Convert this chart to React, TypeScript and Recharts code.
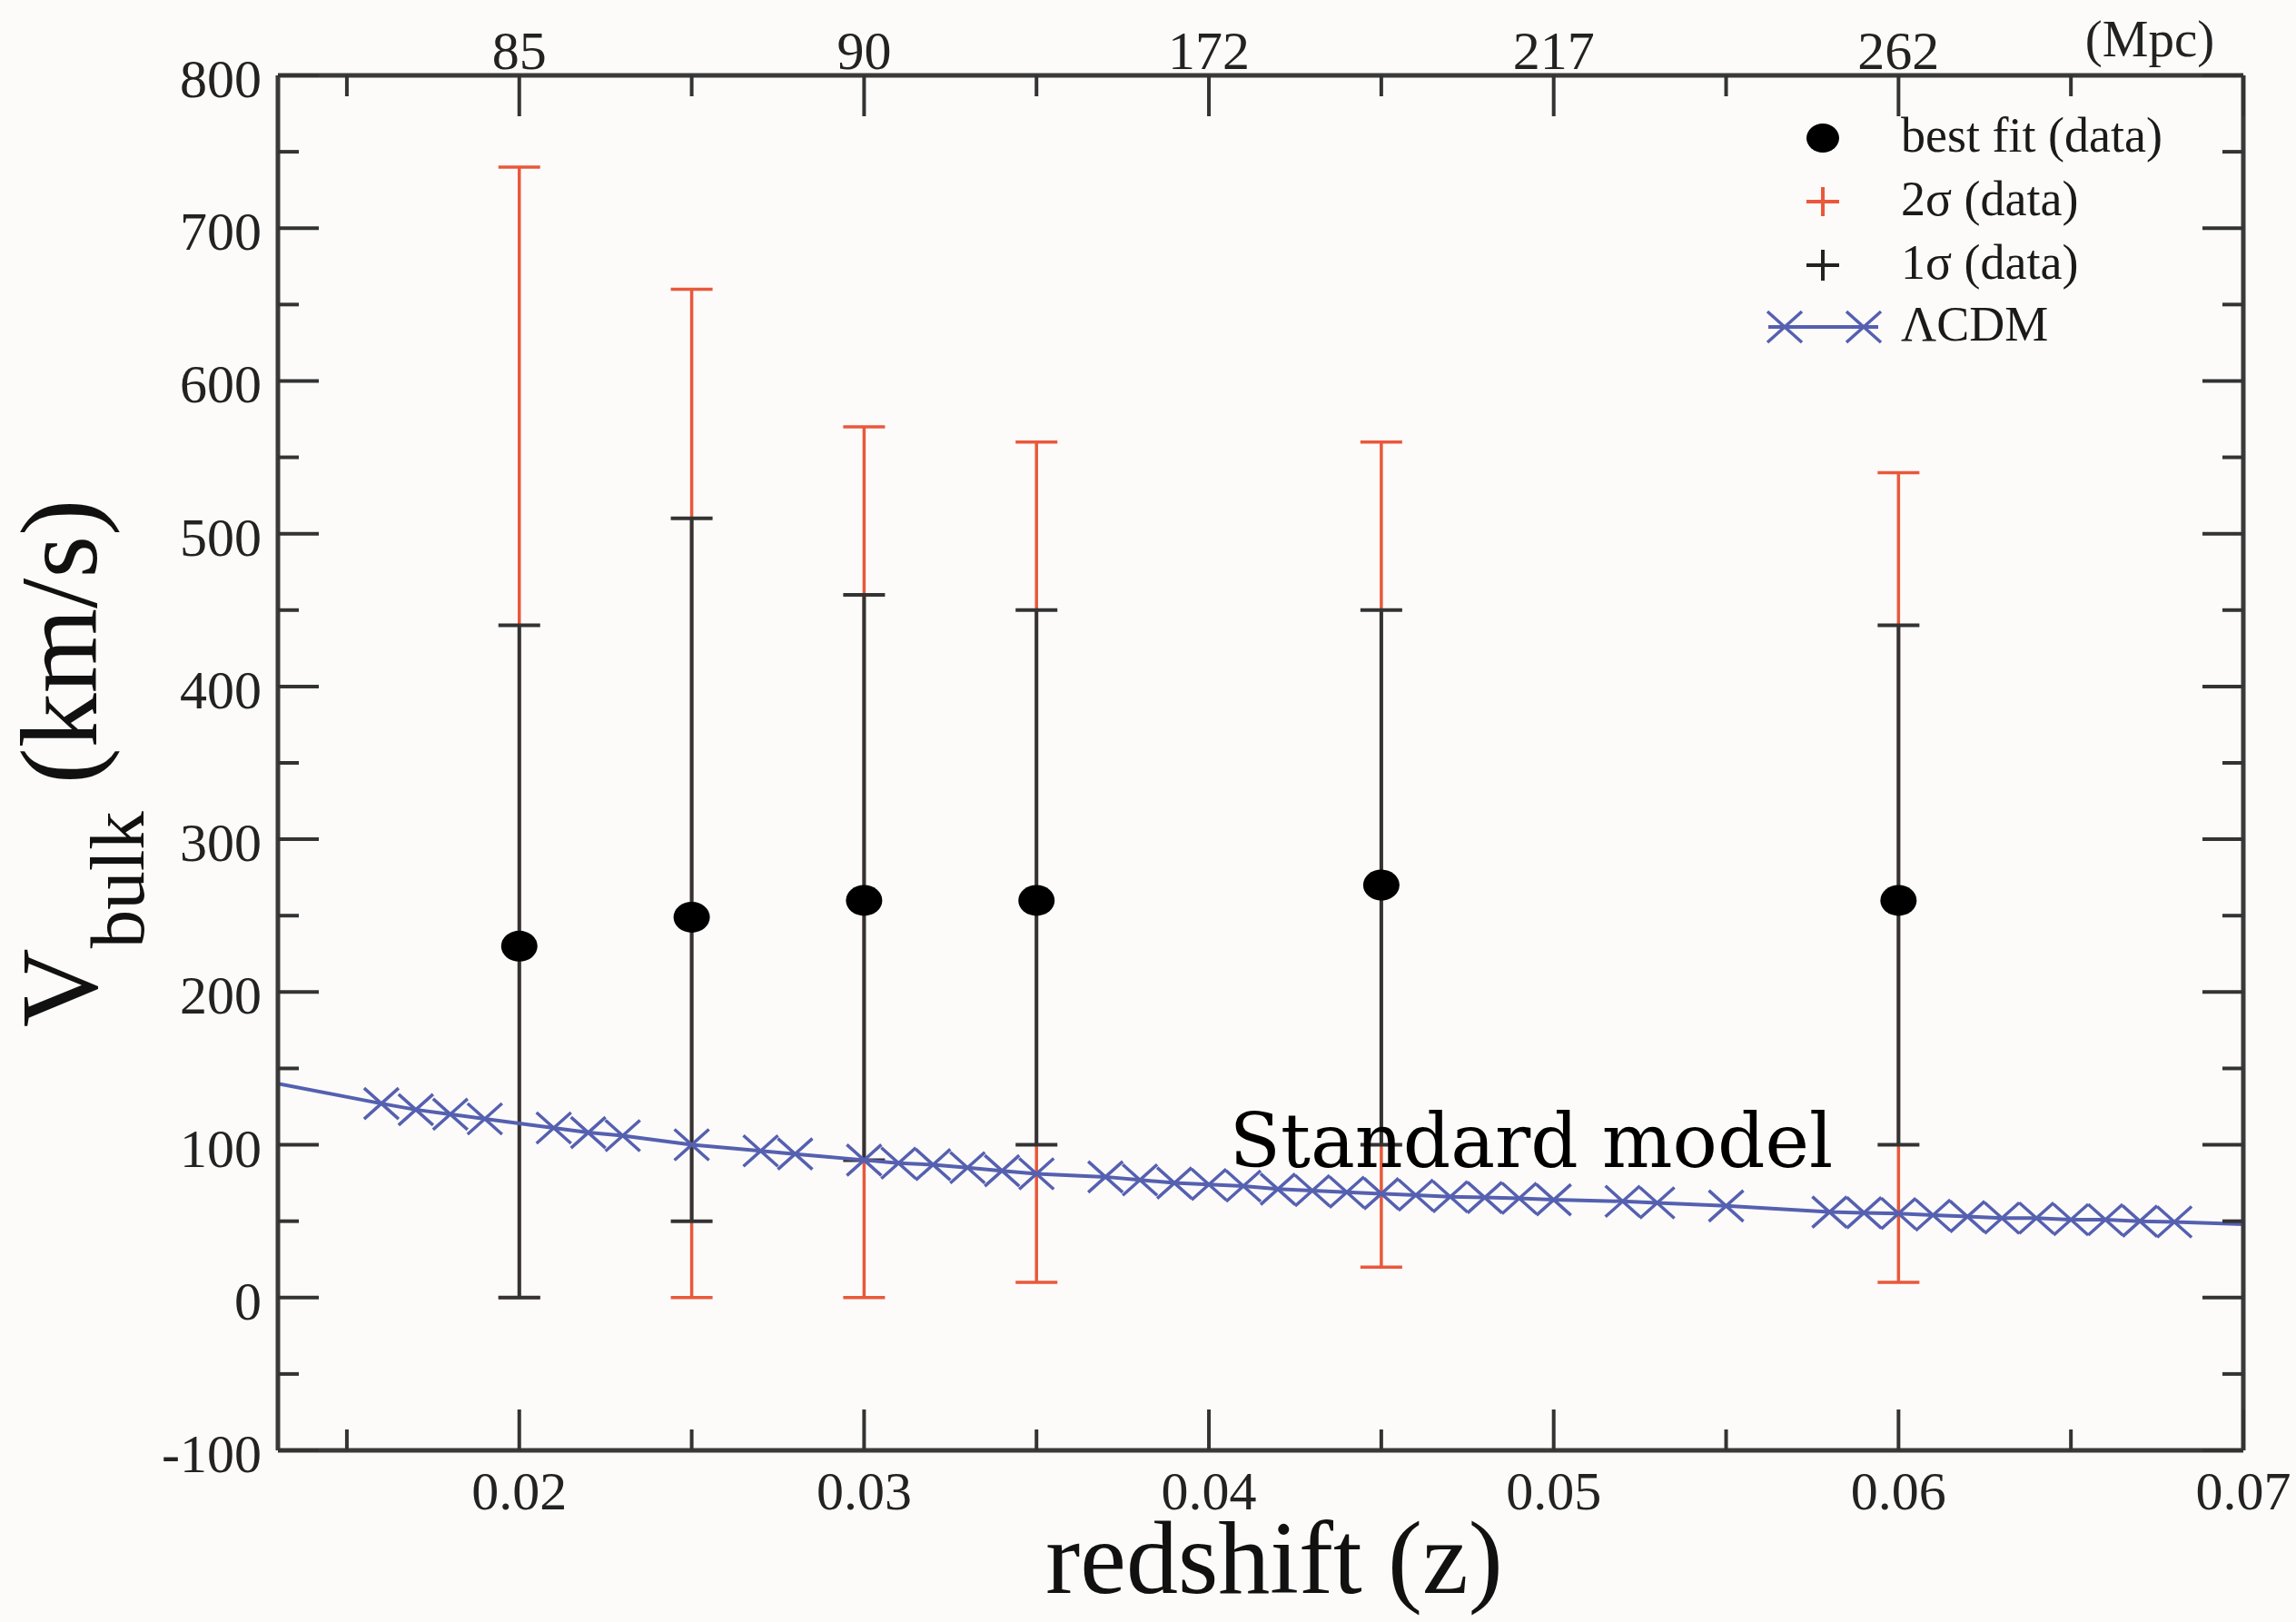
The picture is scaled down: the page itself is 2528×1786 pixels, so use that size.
import { ComposedChart, Scatter, Line, XAxis, YAxis, ErrorBar, Legend, ReferenceDot, Label } from 'recharts';

// bulk flow fits (data)
const fitZ = [0.02, 0.025, 0.03, 0.035, 0.045, 0.06];
const fitV = [230, 249, 260, 260, 270, 260];
const sigma1Low = [0, 50, 90, 100, 100, 100];
const sigma1High = [440, 510, 460, 450, 450, 440];
const sigma2Low = [0, 0, 0, 10, 20, 10];
const sigma2High = [740, 660, 570, 560, 560, 540];

// LCDM expectation, marker points
const lcdmZ = [
  0.016, 0.017, 0.018, 0.019, 0.021, 0.022, 0.023, 0.025, 0.027, 0.028,
  0.03, 0.031, 0.032, 0.033, 0.034, 0.035, 0.037, 0.038, 0.039, 0.04,
  0.041, 0.042, 0.043, 0.044, 0.045, 0.046, 0.047, 0.048, 0.049, 0.05,
  0.052, 0.053, 0.055, 0.058, 0.059, 0.06, 0.061, 0.062, 0.063, 0.064,
  0.065, 0.066, 0.067, 0.068,
];
const lcdmV = [
  127, 123, 120, 117, 111, 108, 106, 100, 96, 94,
  90, 88, 87, 85, 83, 81, 79, 77, 75, 74,
  73, 71, 70, 69, 68, 67, 66, 65.5, 65, 64,
  63, 62, 60, 56, 55.5, 55, 54, 53, 52, 52,
  51, 51, 50, 49.5,
];
// the curve itself runs on to both frame edges
const lcdmEdgeZ = [0.013, 0.07];
const lcdmEdgeV = [140, 48];

// axes
const xMajor = [0.02, 0.03, 0.04, 0.05, 0.06, 0.07];
const xMinor = [0.015, 0.025, 0.035, 0.045, 0.055, 0.065];
const topLabels = ['85', '90', '172', '217', '262', ''];
const yMajor = [-100, 0, 100, 200, 300, 400, 500, 600, 700, 800];
const yMinor = [-50, 50, 150, 250, 350, 450, 550, 650, 750];
const legendLabels = ['best fit (data)', '2\u03c3 (data)', '1\u03c3 (data)', '\u039bCDM'];

const points = fitZ.map((z, i) => ({
  z,
  v: fitV[i],
  err1: [fitV[i] - sigma1Low[i], sigma1High[i] - fitV[i]],
  err2: [fitV[i] - sigma2Low[i], sigma2High[i] - fitV[i]],
}));
const lcdmMarks = lcdmZ.map((z, i) => ({ z, v: lcdmV[i] }));
const lcdmCurve = [
  { z: lcdmEdgeZ[0], v: lcdmEdgeV[0] },
  ...lcdmMarks,
  { z: lcdmEdgeZ[1], v: lcdmEdgeV[1] },
];
const xTicks = [...xMajor, ...xMinor].sort((a, b) => a - b);
const yTicks = [...yMajor, ...yMinor].sort((a, b) => a - b);

const FONT = '"Liberation Serif", "Times New Roman", serif';
const INK = '#222';
const RED = '#e9583b';
const BLUE = '#5560b0';

const majorIndex = (list: number[], v: number) => list.findIndex((m) => Math.abs(m - v) < 1e-9);

function BottomTick(props: any) {
  const { x, y, payload } = props;
  const i = majorIndex(xMajor, payload.value);
  return (
    <g>
      <line x1={x} y1={y} x2={x} y2={y - (i >= 0 ? 45 : 23)} stroke="#333" strokeWidth={4} />
      {i >= 0 && (
        <text x={x} y={y + 65} textAnchor="middle" fontFamily={FONT} fontSize={60} fill={INK}>
          {xMajor[i].toFixed(2)}
        </text>
      )}
    </g>
  );
}

function TopTick(props: any) {
  const { x, y, payload } = props;
  const i = majorIndex(xMajor, payload.value);
  return (
    <g>
      <line x1={x} y1={y} x2={x} y2={y + (i >= 0 ? 45 : 23)} stroke="#333" strokeWidth={4} />
      {i >= 0 && topLabels[i] && (
        <text x={x} y={y - 7} textAnchor="middle" fontFamily={FONT} fontSize={60} fill={INK}>
          {topLabels[i]}
        </text>
      )}
    </g>
  );
}

function LeftTick(props: any) {
  const { x, y, payload } = props;
  const i = majorIndex(yMajor, payload.value);
  return (
    <g>
      <line x1={x} y1={y} x2={x + (i >= 0 ? 45 : 23)} y2={y} stroke="#333" strokeWidth={4} />
      {i >= 0 && (
        <text x={x - 18} y={y + 24} textAnchor="end" fontFamily={FONT} fontSize={60} fill={INK}>
          {yMajor[i]}
        </text>
      )}
    </g>
  );
}

function RightTick(props: any) {
  const { x, y, payload } = props;
  const i = majorIndex(yMajor, payload.value);
  return <line x1={x} y1={y} x2={x - (i >= 0 ? 45 : 23)} y2={y} stroke="#333" strokeWidth={4} />;
}

function Dot(props: any) {
  return <ellipse cx={props.cx} cy={props.cy} rx={20} ry={17} fill="#000" />;
}

function Cross(props: any) {
  const { cx, cy } = props;
  return (
    <g stroke={BLUE} strokeWidth={3.5}>
      <line x1={cx - 19} y1={cy - 17} x2={cx + 19} y2={cy + 17} />
      <line x1={cx - 19} y1={cy + 17} x2={cx + 19} y2={cy - 17} />
    </g>
  );
}

function LegendBox() {
  const rowY = [52, 122, 192, 260];
  return (
    <svg width={520} height={300}>
      <ellipse cx={107} cy={rowY[0]} rx={18} ry={16} fill="#000" />
      <g stroke={RED} strokeWidth={4}>
        <line x1={89} y1={rowY[1]} x2={125} y2={rowY[1]} />
        <line x1={107} y1={rowY[1] - 16} x2={107} y2={rowY[1] + 16} />
      </g>
      <g stroke="#222" strokeWidth={4}>
        <line x1={89} y1={rowY[2]} x2={125} y2={rowY[2]} />
        <line x1={107} y1={rowY[2] - 17} x2={107} y2={rowY[2] + 17} />
      </g>
      <line x1={47} y1={rowY[3]} x2={168} y2={rowY[3]} stroke={BLUE} strokeWidth={4} />
      <Cross cx={65} cy={rowY[3]} />
      <Cross cx={152} cy={rowY[3]} />
      {legendLabels.map((t, i) => (
        <text key={t} x={193} y={rowY[i] + 15} fontFamily={FONT} fontSize={54} fill="#1a1a1a">
          {t}
        </text>
      ))}
    </svg>
  );
}

export default function App() {
  return (
    <div style={{ position: 'absolute', left: 0, top: 0, width: 2528, height: 1786, background: '#fcfbfa' }}>
      <ComposedChart width={2528} height={1786} margin={{ top: 43, right: 48, bottom: 89, left: 186 }}>
        <XAxis
          xAxisId={0}
          dataKey="z"
          type="number"
          domain={[0.013, 0.07]}
          allowDataOverflow
          ticks={xTicks}
          interval={0}
          height={100}
          tickSize={0}
          tickMargin={0}
          tick={BottomTick}
          tickLine={false}
          axisLine={{ stroke: '#3a3a3a', strokeWidth: 5 }}
        >
          <Label
            content={() => (
              <text x={1403} y={1754} textAnchor="middle" fontFamily={FONT} fontSize={114} fill="#111">
                redshift (z)
              </text>
            )}
          />
        </XAxis>
        <XAxis
          xAxisId="top"
          orientation="top"
          dataKey="z"
          type="number"
          domain={[0.013, 0.07]}
          allowDataOverflow
          ticks={xTicks}
          interval={0}
          height={40}
          tickSize={0}
          tickMargin={0}
          tick={TopTick}
          tickLine={false}
          axisLine={{ stroke: '#3a3a3a', strokeWidth: 5 }}
        >
          <Label
            content={() => (
              <text x={2367} y={62} textAnchor="middle" fontFamily={FONT} fontSize={57} fill={INK}>
                (Mpc)
              </text>
            )}
          />
        </XAxis>
        <YAxis
          yAxisId={0}
          type="number"
          domain={[-100, 800]}
          allowDataOverflow
          ticks={yTicks}
          interval={0}
          width={120}
          tickSize={0}
          tickMargin={0}
          tick={LeftTick}
          tickLine={false}
          axisLine={{ stroke: '#3a3a3a', strokeWidth: 5 }}
        >
          <Label
            content={() => (
              <text x={106} y={1131} transform="rotate(-90, 106, 1131)" fontFamily={FONT} fill="#111">
                <tspan fontSize={120}>V</tspan>
                <tspan fontSize={85} dy={52}>bulk</tspan>
                <tspan fontSize={120} dy={-52}> (km/s)</tspan>
              </text>
            )}
          />
        </YAxis>
        <YAxis
          yAxisId="right"
          orientation="right"
          type="number"
          domain={[-100, 800]}
          allowDataOverflow
          ticks={yTicks}
          interval={0}
          width={10}
          tickSize={0}
          tickMargin={0}
          tick={RightTick}
          tickLine={false}
          axisLine={{ stroke: '#3a3a3a', strokeWidth: 5 }}
        />
        <Legend
          layout="vertical"
          align="center"
          verticalAlign="middle"
          content={() => <LegendBox />}
          wrapperStyle={{ position: 'absolute', left: 1900, top: 100, width: 520, height: 300 }}
        />
        <Scatter name="best fit (data)" data={points} dataKey="v" shape={Dot} isAnimationActive={false}>
          <ErrorBar dataKey="err2" direction="y" width={23} stroke={RED} strokeWidth={3.5} isAnimationActive={false} />
          <ErrorBar dataKey="err1" direction="y" width={23} stroke="#333" strokeWidth={4} isAnimationActive={false} />
        </Scatter>
        <Line
          name="LCDM curve"
          data={lcdmCurve}
          dataKey="v"
          type="linear"
          stroke={BLUE}
          strokeWidth={4}
          dot={false}
          activeDot={false}
          isAnimationActive={false}
          legendType="none"
        />
        <Scatter name="\u039bCDM" data={lcdmMarks} dataKey="v" shape={Cross} isAnimationActive={false} />
        <ReferenceDot
          x={0.0406}
          y={85.5}
          r={0}
          fill="none"
          stroke="none"
          label={{
            content: (p: any) => (
              <text x={p.viewBox.x} y={p.viewBox.y} fontFamily='"DejaVu Serif", serif' fontSize={82} fill="#000">
                Standard model
              </text>
            ),
          }}
        />
      </ComposedChart>
    </div>
  );
}
